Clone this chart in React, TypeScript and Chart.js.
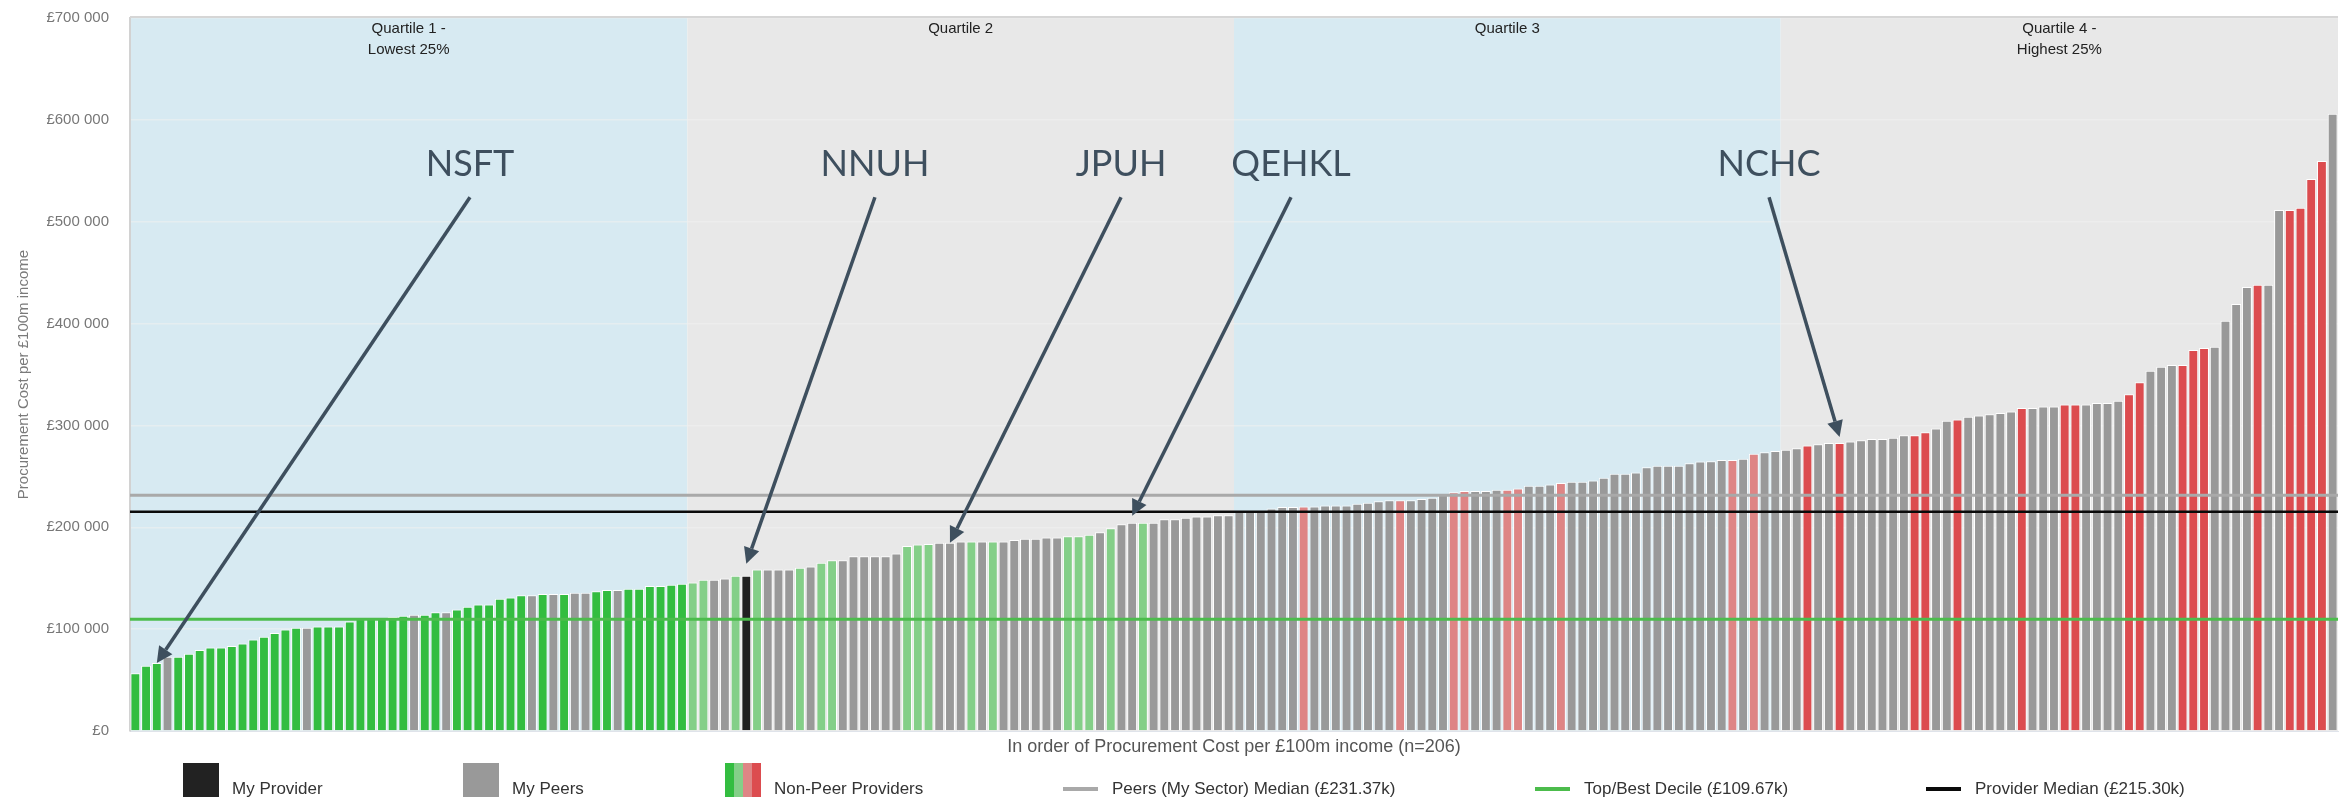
import React, { useEffect, useRef } from "react";
import { Chart, registerables } from "chart.js";

Chart.register(...registerables);

// ---------- DATA ----------
// Procurement cost per £100m income, ordered low → high (n = 206)
const Q1_VALUES = [
  56600, 64100, 66700, 73000, 73000, 75900, 79500, 82100, 82100, 83400,
  86000, 89900, 92500, 96100, 99700, 101400, 101400, 102700, 102700, 102700,
  107600, 109900, 109900, 109900, 111800, 113100, 114100, 114100, 116700, 116700,
  119400, 122000, 124300, 124300, 129800, 131100, 133300, 133300, 134500, 134500,
  134500, 135800, 135800, 137100, 138400, 138400, 139700, 139700, 142300, 142300,
  143600, 144600,
];
const Q2_VALUES = [
  145900, 148500, 148500, 149800, 152400, 152400, 158600, 158600, 158600, 158600,
  160200, 161500, 165100, 167700, 167700, 171600, 171600, 171600, 171600, 174200,
  181700, 183200, 183500, 184800, 184800, 186100, 186100, 186100, 186100, 186100,
  187400, 188700, 188700, 190000, 190000, 191300, 191300, 192600, 195200, 199100,
  203100, 204400, 204400, 204400, 208000, 208000, 209300, 210600, 210600, 211900,
  211900,
];
const Q3_VALUES = [
  215800, 215800, 215800, 218400, 219800, 219800, 220300, 220500, 221300, 221300,
  221300, 223000, 224200, 225500, 226500, 226500, 226500, 227800, 229100, 231700,
  234300, 235600, 235600, 235600, 236900, 236900, 238200, 240800, 240800, 242100,
  243400, 244700, 244700, 246000, 248600, 252500, 252500, 253800, 259000, 260300,
  260300, 260300, 262900, 264500, 264800, 266100, 266100, 267400, 272300, 273600,
  274900,
];
const Q4_VALUES = [
  276200, 277600, 280200, 281500, 282800, 282800, 284100, 285400, 286700, 286700,
  288000, 290400, 290400, 293300, 296900, 304500, 305800, 308400, 309700, 311000,
  312300, 313600, 317000, 317000, 318700, 318700, 320600, 320600, 320600, 322000,
  322000, 324300, 330700, 342300, 353800, 357500, 359300, 359300, 374100, 375900,
  377300, 402700, 419300, 435900, 438200, 438200, 511500, 511500, 513800, 542000,
  559500, 606000,
];

// Provider type per bar: M = my provider, P = my peers,
// G / g / r / R = non-peer providers (coloured by quartile shade)
const Q1_TYPES = "GGGPGGGGGG" + "GGGGGGPGGG" + "GGGGGGPGGP" + "GGGGGGGPGP" + "GPPGGPGGGG" + "GG";
const Q2_TYPES = "ggPPgMgPPP" + "gPggPPPPPP" + "gggPPPgPgP" + "PPPPPgggPg" + "PPgPPPPPPPP";
const Q3_TYPES = "PPPPPPrPPP" + "PPPPPrPPPP" + "rrPPPrrPPP" + "rPPPPPPPPP" + "PPPPPPrPrPP";
const Q4_TYPES = "PPRPPRPPPP" + "PPRRPPRPPP" + "PPRPPPRRPP" + "PPRRPPPRRR" + "PPPPRPPRRRRP";

const QUARTILE_COUNTS = [Q1_VALUES.length, Q2_VALUES.length, Q3_VALUES.length, Q4_VALUES.length];
const QUARTILE_LABELS = [["Quartile 1 -", "Lowest 25%"], ["Quartile 2"], ["Quartile 3"], ["Quartile 4 -", "Highest 25%"]];

const PEER_MEDIAN = 231370;
const TOP_DECILE = 109670;
const PROVIDER_MEDIAN = 215300;

const Y_TICKS = [0, 100000, 200000, 300000, 400000, 500000, 600000, 700000];

const ANNOTATION_NAMES = ["NSFT", "NNUH", "JPUH", "QEHKL", "NCHC"];
const ANNOTATION_BARS = [2, 57, 76, 93, 159]; // 0-based bar index pointed at

const VALUES = [...Q1_VALUES, ...Q2_VALUES, ...Q3_VALUES, ...Q4_VALUES];
const TYPES = (Q1_TYPES + Q2_TYPES + Q3_TYPES + Q4_TYPES).split("");
const CATEGORIES = VALUES.map((_, i) => String(i + 1));

// ---------- STYLE / LAYOUT ----------
const FONT = "'Liberation Sans', Arial, sans-serif";
const ANNO_FONT = "Lato, 'Open Sans', sans-serif";
const COLORS: Record<string, string> = {
  G: "#33bd40",
  g: "#84cf88",
  P: "#999999",
  M: "#222222",
  r: "#de8585",
  R: "#dc4c4f",
};
const BAND_BLUE = "#d7eaf2";
const BAND_GREY = "#e8e8e8";
const ANNO_COLOR = "#3e4f5e";

// label x (in category-index units) and gap above the bar top (px)
const ANNOTATION_LAYOUT = [
  { at: 31.22, gap: 0 },
  { at: 69.0, gap: 12 },
  { at: 91.96, gap: 0 },
  { at: 107.82, gap: 7 },
  { at: 152.42, gap: 6 },
];
const ANNO_BASELINE_VALUE = 545000;
const ANNO_ARROW_START_VALUE = 524000;

const LEGEND_X = [183, 463, 725, 1063, 1535, 1926];
const LEGEND_Y = 789;

function fmtMoney(v: number) {
  if (v === 0) return "£0";
  const s = Math.round(v).toString();
  return "£" + s.replace(/\B(?=(\d{3})+(?!\d))/g, " ");
}

const decorPlugin = {
  id: "decor",
  beforeDraw(chart: any) {
    const { ctx, chartArea: a, scales } = chart;
    const x = scales.x;
    ctx.save();
    ctx.fillStyle = "#ffffff";
    ctx.fillRect(0, 0, chart.width, chart.height);
    let start = 0;
    QUARTILE_COUNTS.forEach((n, q) => {
      const x0 = x.getPixelForValue(start - 0.5);
      const x1 = x.getPixelForValue(start + n - 0.5);
      ctx.fillStyle = q % 2 === 0 ? BAND_BLUE : BAND_GREY;
      ctx.fillRect(x0, a.top, x1 - x0, a.bottom - a.top);
      start += n;
    });
    ctx.restore();
  },
  beforeDatasetsDraw(chart: any) {
    const { ctx, chartArea: a, scales } = chart;
    const x = scales.x;
    ctx.save();
    ctx.font = `15px ${FONT}`;
    ctx.fillStyle = "#222";
    ctx.textAlign = "center";
    ctx.textBaseline = "middle";
    let start = 0;
    QUARTILE_COUNTS.forEach((n, q) => {
      const cx = (x.getPixelForValue(start - 0.5) + x.getPixelForValue(start + n - 0.5)) / 2;
      QUARTILE_LABELS[q].forEach((t, li) => ctx.fillText(t, cx, a.top + 11 + li * 21));
      start += n;
    });
    ctx.restore();
  },
  afterDatasetsDraw(chart: any) {
    const { ctx, chartArea: a, scales } = chart;
    const x = scales.x;
    const y = scales.y;
    ctx.save();
    // top border
    ctx.strokeStyle = "#d6d6d6";
    ctx.lineWidth = 2;
    ctx.beginPath();
    ctx.moveTo(a.left, a.top - 1);
    ctx.lineTo(a.right, a.top - 1);
    ctx.stroke();
    // reference lines
    const refs = [
      { v: TOP_DECILE, c: "#4cbc4c", w: 3 },
      { v: PEER_MEDIAN, c: "#a9a9a9", w: 3 },
      { v: PROVIDER_MEDIAN, c: "#0a0a0a", w: 2.5 },
    ];
    refs.forEach((r) => {
      const py = y.getPixelForValue(r.v);
      ctx.strokeStyle = r.c;
      ctx.lineWidth = r.w;
      ctx.beginPath();
      ctx.moveTo(a.left, py);
      ctx.lineTo(a.right, py);
      ctx.stroke();
    });
    // annotations
    ctx.font = `36px ${ANNO_FONT}`;
    ctx.fillStyle = ANNO_COLOR;
    ctx.strokeStyle = ANNO_COLOR;
    ctx.textAlign = "center";
    ctx.textBaseline = "alphabetic";
    ANNOTATION_NAMES.forEach((name, i) => {
      const lay = ANNOTATION_LAYOUT[i];
      const bar = ANNOTATION_BARS[i];
      const lx = x.getPixelForValue(lay.at);
      ctx.fillText(name, lx, y.getPixelForValue(ANNO_BASELINE_VALUE));
      const sy = y.getPixelForValue(ANNO_ARROW_START_VALUE);
      const tx = x.getPixelForValue(bar);
      const ty = y.getPixelForValue(VALUES[bar]) - lay.gap;
      const ang = Math.atan2(ty - sy, tx - lx);
      const head = 16;
      const hw = 8;
      const bx = tx - Math.cos(ang) * head;
      const by = ty - Math.sin(ang) * head;
      ctx.lineWidth = 3.5;
      ctx.beginPath();
      ctx.moveTo(lx, sy);
      ctx.lineTo(bx, by);
      ctx.stroke();
      ctx.beginPath();
      ctx.moveTo(tx, ty);
      ctx.lineTo(bx + Math.sin(ang) * hw, by - Math.cos(ang) * hw);
      ctx.lineTo(bx - Math.sin(ang) * hw, by + Math.cos(ang) * hw);
      ctx.closePath();
      ctx.fill();
    });
    ctx.restore();
  },
  afterDraw(chart: any) {
    const { ctx } = chart;
    ctx.save();
    ctx.font = `17px ${FONT}`;
    ctx.textBaseline = "middle";
    ctx.textAlign = "left";
    const items = [
      { kind: "box", colors: [COLORS.M], label: "My Provider" },
      { kind: "box", colors: [COLORS.P], label: "My Peers" },
      { kind: "box", colors: [COLORS.G, COLORS.g, COLORS.r, COLORS.R], label: "Non-Peer Providers" },
      { kind: "line", colors: ["#a9a9a9"], label: `Peers (My Sector) Median (£${(PEER_MEDIAN / 1000).toFixed(2)}k)` },
      { kind: "line", colors: ["#4cbc4c"], label: `Top/Best Decile (£${(TOP_DECILE / 1000).toFixed(2)}k)` },
      { kind: "line", colors: ["#0a0a0a"], label: `Provider Median (£${(PROVIDER_MEDIAN / 1000).toFixed(2)}k)` },
    ];
    items.forEach((it, i) => {
      const x0 = LEGEND_X[i];
      if (it.kind === "box") {
        const w = 36;
        const sw = w / it.colors.length;
        it.colors.forEach((c, k) => {
          ctx.fillStyle = c;
          ctx.fillRect(x0 + k * sw, LEGEND_Y - 26, sw, 40);
        });
        ctx.fillStyle = "#333";
        ctx.fillText(it.label, x0 + 49, LEGEND_Y);
      } else {
        ctx.strokeStyle = it.colors[0];
        ctx.lineWidth = 4;
        ctx.beginPath();
        ctx.moveTo(x0, LEGEND_Y);
        ctx.lineTo(x0 + 35, LEGEND_Y);
        ctx.stroke();
        ctx.fillStyle = "#333";
        ctx.fillText(it.label, x0 + 49, LEGEND_Y);
      }
    });
    ctx.restore();
  },
};

export default function App() {
  const ref = useRef<HTMLCanvasElement | null>(null);
  useEffect(() => {
    if (!ref.current) return;
    const chart = new Chart(ref.current, {
      type: "bar",
      data: {
        labels: CATEGORIES,
        datasets: [
          {
            label: "Procurement Cost per £100m income",
            data: VALUES,
            backgroundColor: TYPES.map((t) => COLORS[t]),
            borderColor: "#ffffff",
            borderWidth: 1,
            barPercentage: 0.92,
            categoryPercentage: 1,
          },
        ],
      },
      options: {
        animation: false,
        responsive: false,
        devicePixelRatio: 1,
        events: [],
        layout: { padding: { top: 18, right: 5, bottom: 39, left: 0 } },
        plugins: {
          legend: { display: false },
          tooltip: { enabled: false },
        },
        scales: {
          x: {
            ticks: { display: false },
            grid: { display: false, drawTicks: false },
            border: { display: true, color: "#dfe3ea", width: 1 },
            title: {
              display: true,
              text: "In order of Procurement Cost per £100m income (n=206)",
              color: "#555",
              font: { size: 18, family: FONT },
              padding: 0,
            },
            afterFit: (s: any) => {
              s.height = 27;
            },
          },
          y: {
            min: 0,
            max: 700000,
            afterBuildTicks: (s: any) => {
              s.ticks = Y_TICKS.map((v) => ({ value: v }));
            },
            ticks: {
              padding: 3,
              color: "#777",
              font: { size: 15, family: FONT },
              callback: (v: any) => fmtMoney(Number(v)),
            },
            grid: {
              color: "rgba(240,240,240,0.55)",
              lineWidth: 1.5,
              drawTicks: true,
              tickLength: 18,
              tickColor: "rgba(0,0,0,0)",
            },
            border: { display: true, color: "#d2d2d2", width: 2 },
            title: {
              display: true,
              text: "Procurement Cost per £100m income",
              color: "#7a7a7a",
              font: { size: 15, family: FONT },
              padding: { top: 15, bottom: 0 },
            },
            afterFit: (s: any) => {
              s.width = 130;
            },
          },
        },
      },
      plugins: [decorPlugin],
    });
    return () => chart.destroy();
  }, []);
  return (
    <div style={{ position: "absolute", left: 0, top: 0, width: 2343, height: 797, background: "#fff" }}>
      <canvas ref={ref} width={2343} height={797} style={{ display: "block" }} />
    </div>
  );
}
